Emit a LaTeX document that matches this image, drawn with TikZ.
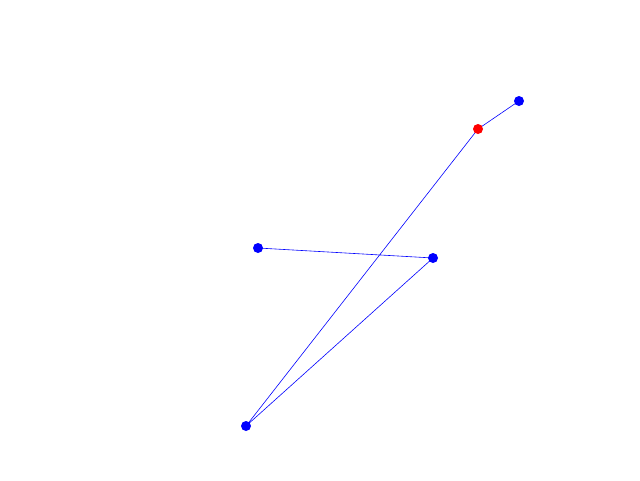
\documentclass[tikz,border=0pt]{standalone}
\usetikzlibrary{backgrounds}
\begin{document}
\begin{tikzpicture}[x=1pt,y=-1pt,
  dot/.style={circle,fill=blue,inner sep=0pt,minimum size=10pt},
  rdot/.style={circle,fill=red,inner sep=0pt,minimum size=10pt},
  seg/.style={blue,line width=0.6pt}]
\useasboundingbox (0,0) rectangle (640,480);
\node[dot] (a) at (519,101) {};
\node[rdot] (b) at (478,129) {};
\node[dot] (c) at (246,426) {};
\node[dot] (d) at (433,258) {};
\node[dot] (e) at (258,248) {};
\begin{scope}[on background layer]
\draw[seg] (a.center) -- (b.center) -- (c.center) -- (d.center) -- (e.center);
\end{scope}
\end{tikzpicture}
\end{document}
